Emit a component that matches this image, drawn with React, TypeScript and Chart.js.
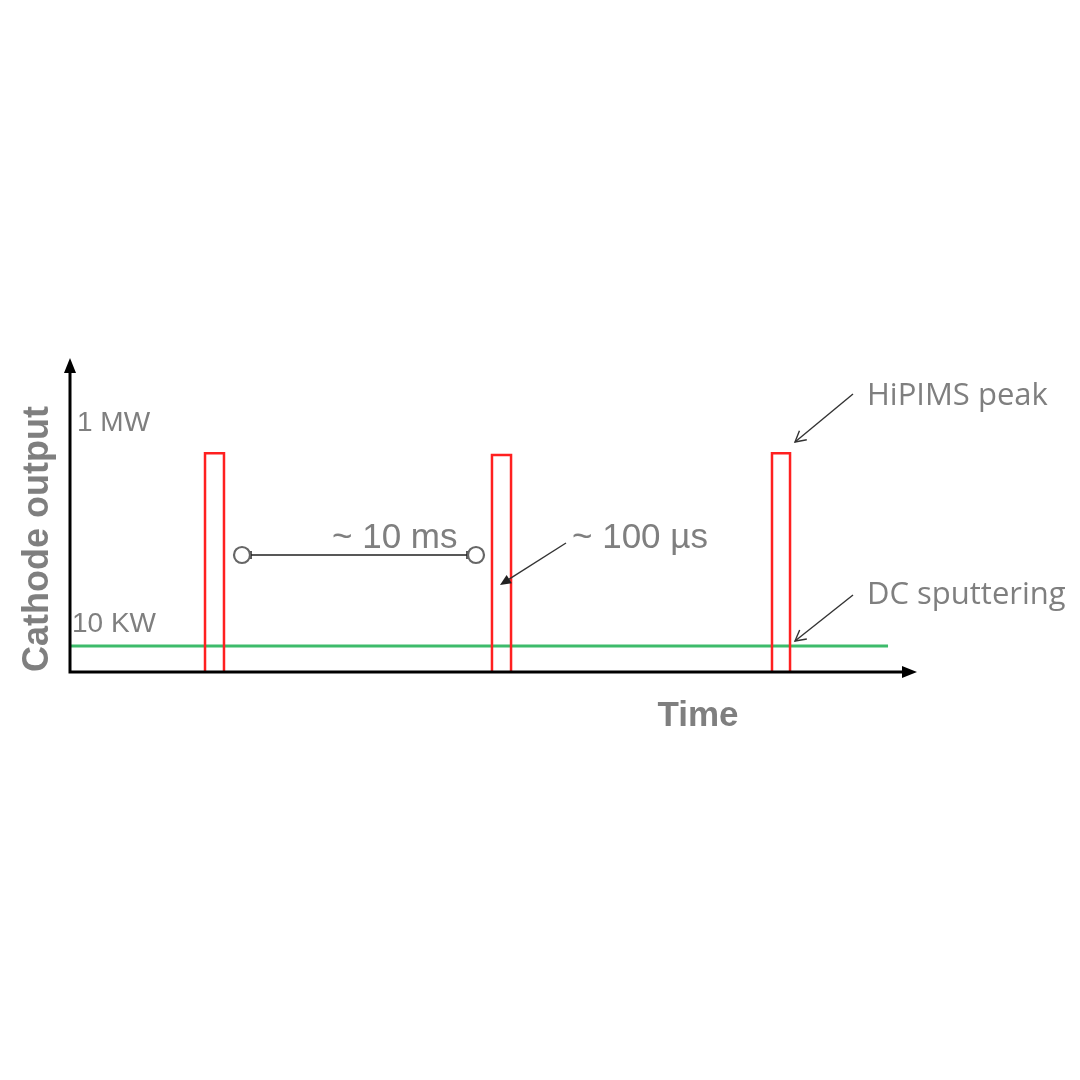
import React, { useEffect, useRef } from "react";
import { Chart, registerables } from "chart.js";

Chart.register(...registerables);

// Schematic data (arbitrary units: x = time, y = cathode output)
const pulseStart = [15.94, 49.82, 82.88];
const pulseEnd = [18.18, 52.07, 85.01];
const pulseTop = [69.7, 69.1, 69.7];
const dcLevel = [8.28];
const dcEnd = [96.58];
const tickValues = [79.3, 15.3];
const tickLabels = ["1 MW", "10 KW"];
const tickOffsets = [7, 2];

const GRAY = "#7f7f7f";
const SANS = "'Liberation Sans', Arial, sans-serif";
const CAL = "'Open Sans', 'Noto Sans', sans-serif";

function arrowLine(ctx: CanvasRenderingContext2D, x1: number, y1: number, x2: number, y2: number, filled: boolean) {
  const ang = Math.atan2(y2 - y1, x2 - x1);
  const len = 12;
  const spread = filled ? 0.42 : 0.5;
  ctx.save();
  ctx.strokeStyle = "#333";
  ctx.fillStyle = "#222";
  ctx.lineWidth = 1.4;
  ctx.beginPath();
  ctx.moveTo(x1, y1);
  ctx.lineTo(filled ? x2 - Math.cos(ang) * 8 : x2, filled ? y2 - Math.sin(ang) * 8 : y2);
  ctx.stroke();
  ctx.beginPath();
  ctx.moveTo(x2 - Math.cos(ang - spread) * len, y2 - Math.sin(ang - spread) * len);
  ctx.lineTo(x2, y2);
  ctx.lineTo(x2 - Math.cos(ang + spread) * len, y2 - Math.sin(ang + spread) * len);
  if (filled) {
    ctx.closePath();
    ctx.fill();
  } else {
    ctx.stroke();
  }
  ctx.restore();
}

const schematicPlugin = {
  id: "schematic",
  afterDatasetsDraw(chart: any) {
    const ctx: CanvasRenderingContext2D = chart.ctx;
    const xs = chart.scales.x;
    const ys = chart.scales.y;
    const x0 = xs.getPixelForValue(0);
    const y0 = ys.getPixelForValue(0);
    const xEnd = xs.getPixelForValue(100);
    const yEnd = ys.getPixelForValue(100);
    ctx.save();
    // axes
    ctx.strokeStyle = "#000";
    ctx.fillStyle = "#000";
    ctx.lineWidth = 3;
    ctx.beginPath();
    ctx.moveTo(x0, y0 + 1.5);
    ctx.lineTo(x0, yEnd + 12);
    ctx.moveTo(x0 - 1.5, y0);
    ctx.lineTo(xEnd - 12, y0);
    ctx.stroke();
    ctx.beginPath();
    ctx.moveTo(x0, yEnd);
    ctx.lineTo(x0 - 6, yEnd + 15);
    ctx.lineTo(x0 + 6, yEnd + 15);
    ctx.closePath();
    ctx.fill();
    ctx.beginPath();
    ctx.moveTo(xEnd, y0);
    ctx.lineTo(xEnd - 15, y0 - 6);
    ctx.lineTo(xEnd - 15, y0 + 6);
    ctx.closePath();
    ctx.fill();

    // tick labels (inside)
    ctx.fillStyle = GRAY;
    ctx.textBaseline = "middle";
    ctx.textAlign = "left";
    ctx.font = `28px ${SANS}`;
    tickValues.forEach((v, i) => {
      ctx.fillText(tickLabels[i], x0 + tickOffsets[i], ys.getPixelForValue(v));
    });

    // axis titles
    ctx.font = `bold 35px ${SANS}`;
    ctx.textAlign = "center";
    ctx.fillText("Time", 698, 716);
    ctx.save();
    ctx.translate(38, 539);
    ctx.rotate(-Math.PI / 2);
    ctx.font = `bold 36px ${SANS}`;
    ctx.fillText("Cathode output", 0, 0);
    ctx.restore();

    // dimension between pulses
    const cy = 555;
    const lx = 242;
    const rx = 476;
    ctx.strokeStyle = "#222";
    ctx.lineWidth = 1.5;
    ctx.beginPath();
    ctx.moveTo(lx + 8, cy);
    ctx.lineTo(rx - 8, cy);
    ctx.moveTo(lx + 9, cy - 4);
    ctx.lineTo(lx + 9, cy + 4);
    ctx.moveTo(rx - 9, cy - 4);
    ctx.lineTo(rx - 9, cy + 4);
    ctx.stroke();
    ctx.strokeStyle = "#666";
    ctx.lineWidth = 2.2;
    ctx.beginPath();
    ctx.arc(lx, cy, 8, 0, Math.PI * 2);
    ctx.stroke();
    ctx.beginPath();
    ctx.arc(rx, cy, 8, 0, Math.PI * 2);
    ctx.stroke();

    ctx.fillStyle = GRAY;
    ctx.font = `35px ${SANS}`;
    ctx.textAlign = "left";
    ctx.textBaseline = "alphabetic";
    ctx.fillText("~ 10 ms", 332, 548);
    ctx.fillText("~ 100 µs", 572, 548);

    ctx.font = `31px ${CAL}`;
    ctx.fillText("HiPIMS peak", 867, 405);
    ctx.fillText("DC sputtering", 867, 604);
    ctx.restore();

    arrowLine(ctx, 853, 394, 795, 442, false);
    arrowLine(ctx, 853, 595, 795, 641, false);
    arrowLine(ctx, 566, 543, 500, 585, true);
  },
};

export default function App() {
  const ref = useRef<HTMLCanvasElement | null>(null);
  useEffect(() => {
    if (!ref.current) return;
    const pulseSets = pulseStart.map((s, i) => ({
      label: `Pulse ${i + 1}`,
      data: [
        { x: s, y: 0 },
        { x: s, y: pulseTop[i] },
        { x: pulseEnd[i], y: pulseTop[i] },
        { x: pulseEnd[i], y: 0 },
      ],
      borderColor: "#ff2020",
      borderWidth: 2.5,
      showLine: true,
      pointRadius: 0,
      fill: false,
      tension: 0,
      borderJoinStyle: "miter" as const,
    }));
    const dcSet = {
      label: "DC sputtering",
      data: [
        { x: 0, y: dcLevel[0] },
        { x: dcEnd[0], y: dcLevel[0] },
      ],
      borderColor: "#3dbb6b",
      borderWidth: 3,
      showLine: true,
      pointRadius: 0,
      fill: false,
    };
    const chart = new Chart(ref.current, {
      type: "scatter",
      data: { datasets: [...pulseSets, dcSet] as any },
      options: {
        animation: false,
        responsive: false,
        maintainAspectRatio: false,
        layout: { padding: { left: 70, right: 163, top: 358, bottom: 408 } },
        plugins: { legend: { display: false }, tooltip: { enabled: false } },
        scales: {
          x: { type: "linear", min: 0, max: 100, display: false },
          y: { type: "linear", min: 0, max: 100, display: false },
        },
      },
      plugins: [schematicPlugin],
    });
    return () => chart.destroy();
  }, []);
  return (
    <div style={{ position: "fixed", left: 0, top: 0, width: 1080, height: 1080, background: "#fff" }}>
      <canvas ref={ref} width={1080} height={1080} style={{ width: 1080, height: 1080 }} />
    </div>
  );
}
